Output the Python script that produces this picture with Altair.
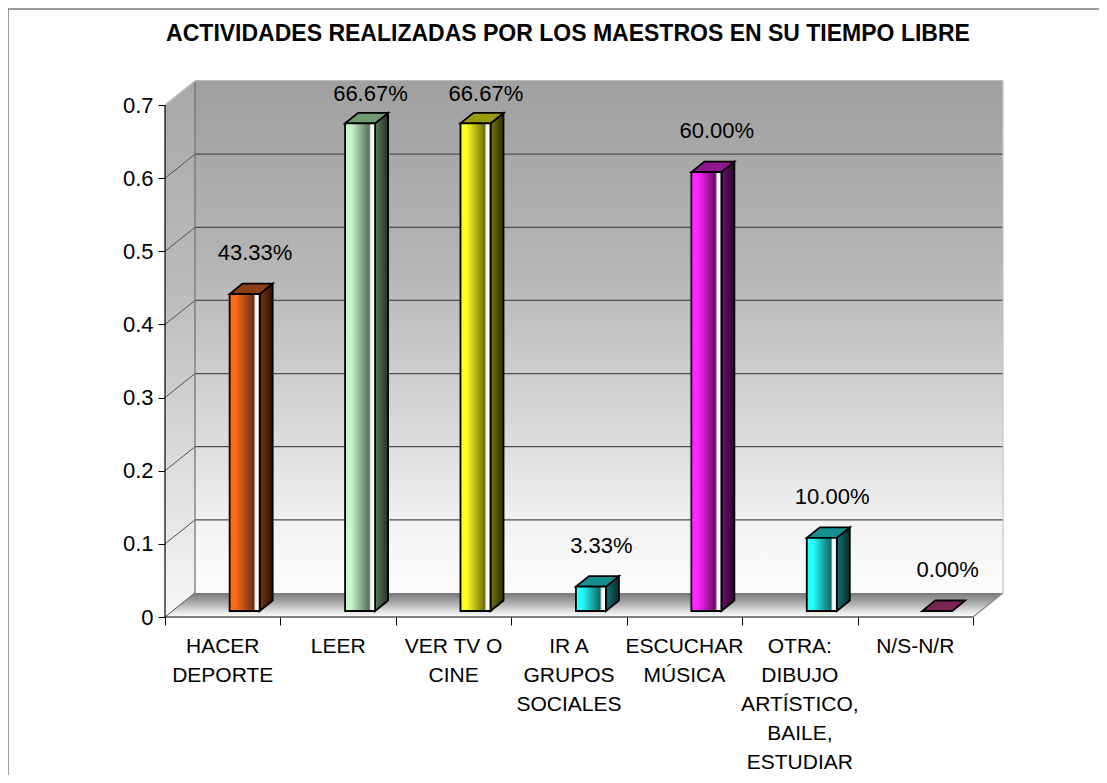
import altair as alt
import pandas as pd

# ---------------- data ----------------
categories = [
    "HACER\nDEPORTE",
    "LEER",
    "VER TV O\nCINE",
    "IR A\nGRUPOS\nSOCIALES",
    "ESCUCHAR\nMÚSICA",
    "OTRA:\nDIBUJO\nARTÍSTICO,\nBAILE,\nESTUDIAR",
    "N/S-N/R",
]
values = [0.4333, 0.6667, 0.6667, 0.0333, 0.6000, 0.1000, 0.0000]
y_ticks = [0, 0.1, 0.2, 0.3, 0.4, 0.5, 0.6, 0.7]
title_text = "ACTIVIDADES REALIZADAS POR LOS MAESTROS EN SU TIEMPO LIBRE"

# ---------------- styles ----------------
face_light = ["#ff6a12", "#c8f8c8", "#ffff26", "#26ffff", "#ff26ff", "#26ffff", "#7a2454"]
face_dark = ["#6e3018", "#56725a", "#70700a", "#0e6a6a", "#6a0e6a", "#0e6a6a", "#5a1a3e"]
side_a = ["#7a3414", "#5e7c60", "#76760c", "#127272", "#6e126e", "#127272", "#5a1a3e"]
side_b = ["#2e1206", "#243024", "#2c2c00", "#062c2c", "#2a052a", "#062c2c", "#2a0a1a"]
top_col = ["#8c4016", "#6f9a72", "#9a9a10", "#178f8f", "#8c188c", "#178f8f", "#7a2454"]
FONT = "Liberation Sans"

# ---------------- geometry (pixels per unit, 3-D depth) ----------------
N = len(categories)
YTOP = max(y_ticks)
PX_X = 115.43
PX_Y = 731.0
DX = 30 / PX_X           # wall depth in x units
DY = 24 / PX_Y           # wall depth in y units
W = round((N + DX) * PX_X)
H = round((YTOP + DY) * PX_Y)
BL, BR = 0.56, 0.82      # bar front face within category
BB = 6 / PX_Y            # bar front face lifted from floor front
BDX = 13 / PX_X          # bar depth
BDY = 10.5 / PX_Y

xs = alt.Scale(domain=[0, N + DX], nice=False, zero=False)
ys = alt.Scale(domain=[0, YTOP + DY], nice=False, zero=False)
x_axis = alt.Axis(values=list(range(N + 1)), labels=False, domain=False, grid=False,
                  ticks=True, tickSize=8, tickColor="black", tickWidth=1, title=None)
y_axis = alt.Axis(values=y_ticks, format="~g", domain=False, grid=False, ticks=True,
                  tickSize=7, tickColor="black", tickWidth=1, labelFont=FONT,
                  labelFontSize=22, labelColor="black", labelPadding=5, title=None)

df = pd.DataFrame({"cat": categories, "v": values})
df["idx"] = range(N)
df["cx"] = df["idx"] + 0.5
df["xl"] = df["idx"] + BL
df["xr"] = df["idx"] + BR
df["b"] = BB
df["t"] = df["v"] + BB
df["lx"] = df["idx"] + 0.78
df["ly"] = (df["t"] + 41 / PX_Y).clip(upper=YTOP + DY - 13 / PX_Y)
df["zero"] = 0.0

side_rows, top_rows = [], []
for _, r in df.iterrows():
    side_rows.append({"idx": r.idx, "x": r.xr, "y": r.b, "y2": r.t})
    side_rows.append({"idx": r.idx, "x": r.xr + BDX, "y": r.b + BDY, "y2": r.t + BDY})
    top_rows.append({"idx": r.idx, "y": r.t, "x": r.xl, "x2": r.xr})
    top_rows.append({"idx": r.idx, "y": r.t + BDY, "x": r.xl + BDX, "x2": r.xr + BDX})
side_df = pd.DataFrame(side_rows)
top_df = pd.DataFrame(top_rows)

wall_df = pd.DataFrame({"x": [DX], "x2": [N + DX], "y": [DY], "y2": [YTOP + DY]})
left_df = pd.DataFrame({"x": [0, DX], "y": [0, DY], "y2": [YTOP, YTOP + DY]})
floor_df = pd.DataFrame({"y": [0, DY], "x": [0, DX], "x2": [N, N + DX]})
grid_df = pd.DataFrame({"v": [t for t in y_ticks if t > 0]})
grid_df["y"] = grid_df["v"] + DY
grid_df["x"] = DX
grid_df["x2"] = N + DX
diag_df = pd.DataFrame({"v": y_ticks})
diag_df["x"] = 0.0
diag_df["x2"] = DX
diag_df["y2"] = diag_df["v"] + DY
edges_df = pd.DataFrame({
    "x":  [DX, N + DX, N, 0, DX],
    "x2": [DX, N + DX, N + DX, DX, N + DX],
    "y":  [DY, DY, 0, YTOP, YTOP + DY],
    "y2": [YTOP + DY, YTOP + DY, DY, YTOP + DY, YTOP + DY],
    "kind": ["corner", "right", "floor", "ltop", "btop"],
})
front_df = pd.DataFrame({"x": [0, 0], "x2": [0, N], "y": [0, 0], "y2": [YTOP, 0]})
one = pd.DataFrame({"a": [0]})


def vgrad(stops):
    return alt.Gradient(gradient="linear", x1=0, x2=0, y1=0, y2=1,
                        stops=[alt.GradientStop(offset=o, color=c) for o, c in stops])


def hgrad(stops):
    return alt.Gradient(gradient="linear", x1=0, x2=1, y1=0, y2=0,
                        stops=[alt.GradientStop(offset=o, color=c) for o, c in stops])


X = lambda f: alt.X(f, scale=xs, axis=x_axis)
Y = lambda f: alt.Y(f, scale=ys, axis=y_axis)

layers = []

# outer frame and title
layers.append(alt.Chart(one).mark_rect(fill="transparent", stroke="#7f7f7f", strokeWidth=1.5).encode(
    x=alt.value(-157), x2=alt.value(938), y=alt.value(-72), y2=alt.value(760)))
layers.append(alt.Chart(one).mark_text(text=title_text, font=FONT, fontSize=23, fontWeight="bold",
                                       align="center", baseline="middle", color="black").encode(
    x=alt.value(403), y=alt.value(-47)))

# back wall
layers.append(alt.Chart(wall_df).mark_rect(
    fill=vgrad([(0, "#a0a0a0"), (0.35, "#b4b4b4"), (0.7, "#dcdcdc"), (0.9, "#f6f6f6"), (1, "#fcfcfc")])
).encode(x=X("x:Q"), x2="x2:Q", y=Y("y:Q"), y2="y2:Q"))

# left side wall
layers.append(alt.Chart(left_df).mark_area(
    fill=vgrad([(0, "#a8a8a8"), (0.4, "#bcbcbc"), (0.75, "#e0e0e0"), (1, "#f8f8f8")])
).encode(x=X("x:Q"), y=Y("y:Q"), y2="y2:Q"))

# floor
layers.append(alt.Chart(floor_df).mark_area(
    orient="horizontal",
    fill=vgrad([(0, "#787878"), (0.45, "#b0b0b0"), (0.8, "#e8e8e8"), (1, "#ffffff")])
).encode(y=Y("y:Q"), x=X("x:Q"), x2="x2:Q"))

# gridlines on back wall and diagonals on side wall
layers.append(alt.Chart(grid_df).mark_rule(color="#4d4d4d", strokeWidth=1.2).encode(
    x=X("x:Q"), x2="x2:Q", y=Y("y:Q"), y2="y:Q"))
layers.append(alt.Chart(diag_df).mark_rule(color="#505050", strokeWidth=1).encode(
    x=X("x:Q"), x2="x2:Q", y=Y("v:Q"), y2="y2:Q"))

# wall edges
layers.append(alt.Chart(edges_df).mark_rule(strokeWidth=1.2).encode(
    x=X("x:Q"), x2="x2:Q", y=Y("y:Q"), y2="y2:Q",
    color=alt.Color("kind:N", legend=None,
                    scale=alt.Scale(domain=["corner", "right", "floor", "ltop", "btop"],
                                    range=["#6e6e6e", "#c4c4c4", "#8c8c8c", "#c8c8c8", "#d0d0d0"]))))

# front axis lines
layers.append(alt.Chart(front_df).mark_rule(color="black", strokeWidth=1.2).encode(
    x=X("x:Q"), x2="x2:Q", y=Y("y:Q"), y2="y2:Q"))

# 3-D bars
for i in range(N):
    stroke = dict(stroke="black", strokeWidth=1.8, strokeJoin="miter")
    if values[i] > 0:
        layers.append(alt.Chart(side_df).transform_filter(alt.datum.idx == i).mark_area(
            fill=hgrad([(0, side_a[i]), (1, side_b[i])]), **stroke
        ).encode(x=X("x:Q"), y=Y("y:Q"), y2="y2:Q"))
    layers.append(alt.Chart(top_df).transform_filter(alt.datum.idx == i).mark_area(
        orient="horizontal", fill=top_col[i], **stroke
    ).encode(y=Y("y:Q"), x=X("x:Q"), x2="x2:Q"))
    if values[i] > 0:
        layers.append(alt.Chart(df).transform_filter(alt.datum.idx == i).mark_rect(
            fill=hgrad([(0, face_light[i]), (0.2, face_light[i]), (0.8, face_dark[i]),
                        (0.86, "#f4f4f4"), (1, "#ffffff")]), **stroke
        ).encode(x=X("xl:Q"), x2="xr:Q", y=Y("b:Q"), y2="t:Q"))

# value labels
layers.append(alt.Chart(df).mark_text(font=FONT, fontSize=22, color="black", baseline="middle").encode(
    x=X("lx:Q"), y=Y("ly:Q"), text=alt.Text("v:Q", format=".2%")))

# category labels
layers.append(alt.Chart(df).mark_text(font=FONT, fontSize=21, color="black", baseline="top",
                                      align="center", lineBreak="\n", lineHeight=29, dy=19).encode(
    x=X("cx:Q"), y=Y("zero:Q"), text="cat:N"))

chart = alt.layer(*layers).properties(
    width=W, height=H,
    autosize=alt.AutoSizeParams(type="none"),
    padding={"left": 157, "top": 73, "right": 96, "bottom": 158},
    background="white",
).configure_view(stroke=None)

chart.save("out.html", embed_options={"renderer": "svg", "actions": False})
